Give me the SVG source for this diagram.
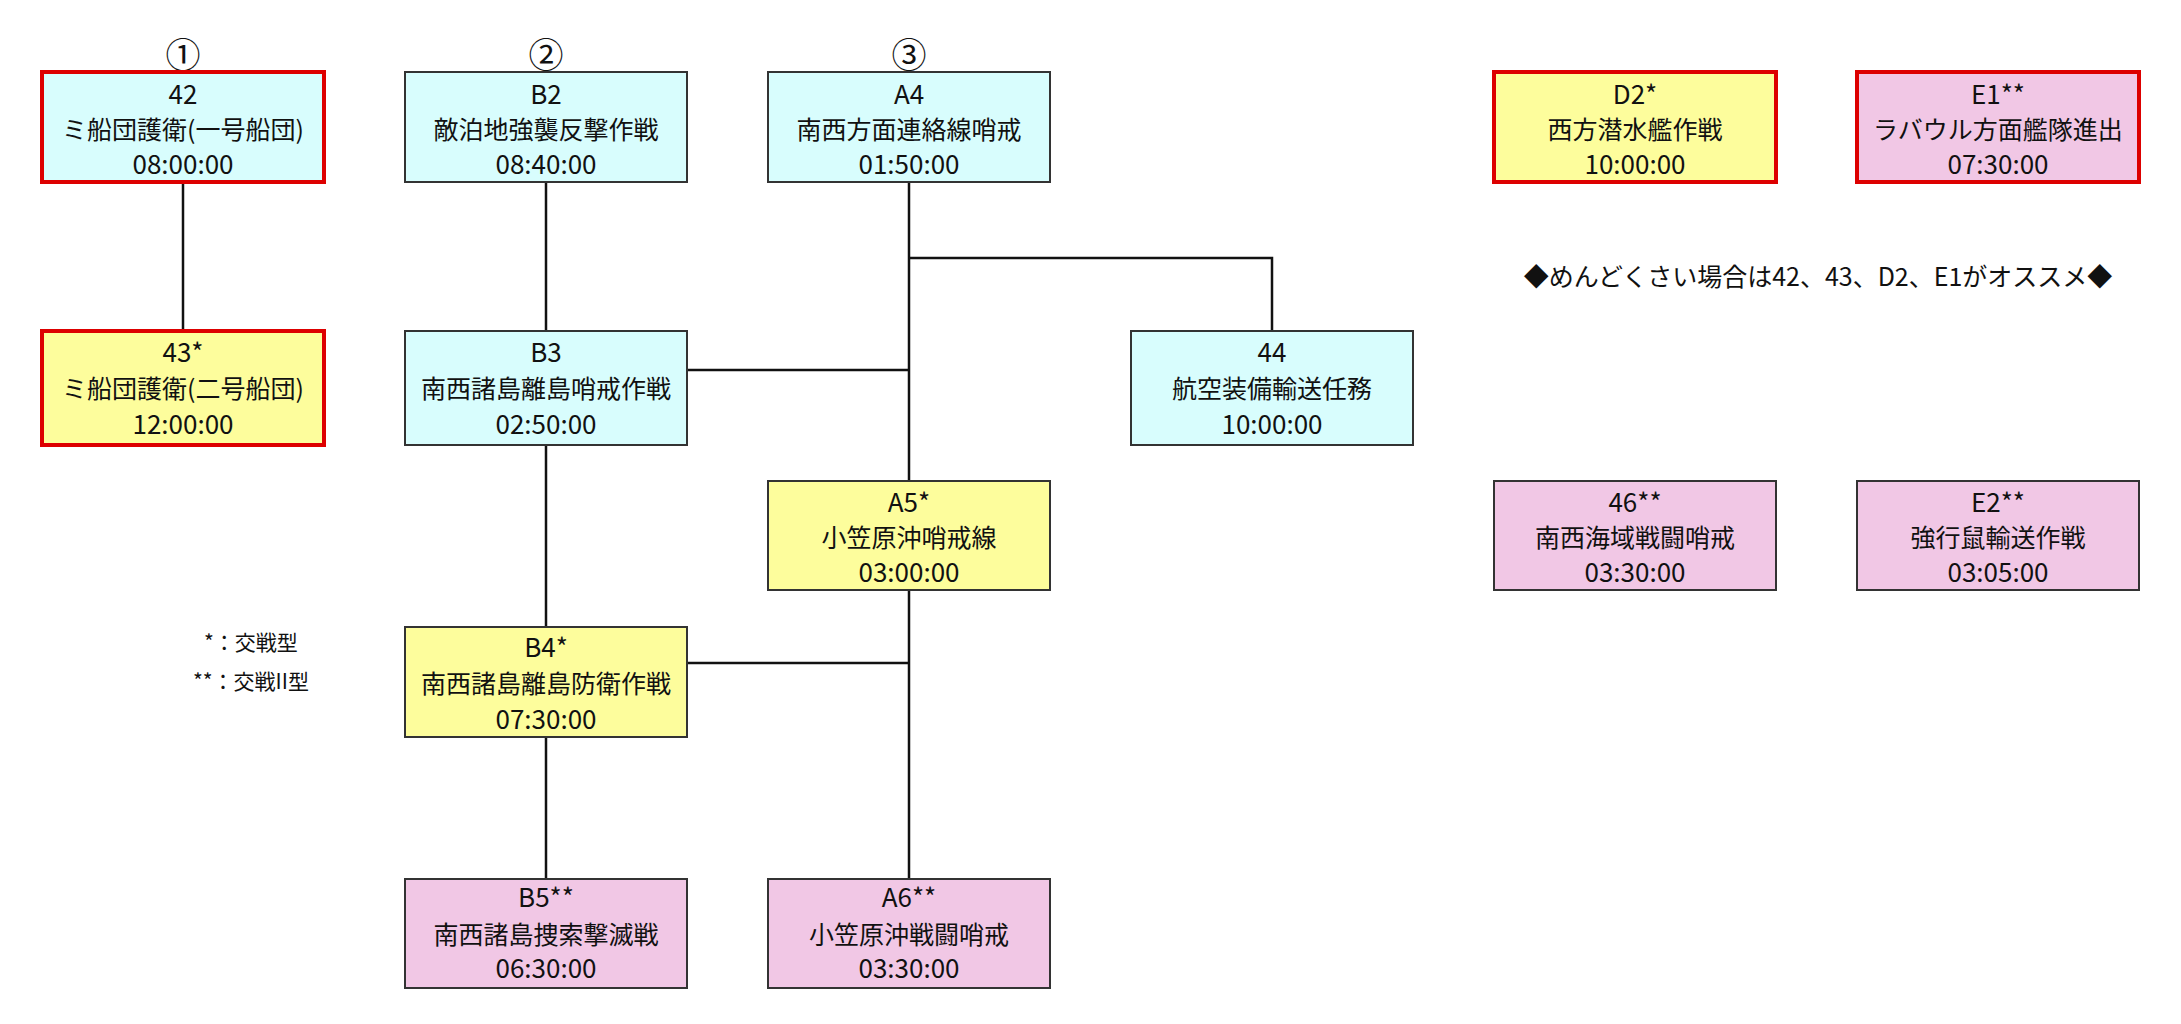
<svg xmlns="http://www.w3.org/2000/svg" width="2181" height="1024" viewBox="0 0 2181 1024">
<style>
text{font-family:"Noto Sans CJK JP","Noto Sans",sans-serif;fill:#111;text-anchor:middle}
.t{font-size:26px}
.j{font-size:25px}
.c{font-size:35px}
.n{stroke:#333;stroke-width:2}
.r{stroke:#dd0000;stroke-width:4}
.cy{fill:#d8fdfd}
.ye{fill:#fdfd9c}
.pk{fill:#f1c7e5}
.lg{font-size:21px;text-anchor:start}
#connectors path{fill:none;stroke:#111;stroke-width:2.5}
</style>
<rect width="2181" height="1024" fill="#fff"/>
<g id="connectors">
<path d="M183,182V331"/>
<path d="M546,182V331"/>
<path d="M546,445V627"/>
<path d="M546,737V879"/>
<path d="M909,182V481"/>
<path d="M909,258H1272V331"/>
<path d="M686,370H909"/>
<path d="M909,590V879"/>
<path d="M686,663H909"/>
</g>
<g id="labels">
<text class="c" x="183" y="68">①</text>
<text class="c" x="546" y="68">②</text>
<text class="c" x="909" y="68">③</text>
</g>
<g id="n42"><rect class="cy r" x="42" y="72" width="282" height="110"/>
<text class="t" x="183" y="104">42</text><text class="j" x="183" y="139">ミ船団護衛(一号船団)</text><text class="t" x="183" y="174">08:00:00</text></g>
<g id="nB2"><rect class="cy n" x="405" y="72" width="282" height="110"/>
<text class="t" x="546" y="104">B2</text><text class="j" x="546" y="139">敵泊地強襲反撃作戦</text><text class="t" x="546" y="174">08:40:00</text></g>
<g id="nA4"><rect class="cy n" x="768" y="72" width="282" height="110"/>
<text class="t" x="909" y="104">A4</text><text class="j" x="909" y="139">南西方面連絡線哨戒</text><text class="t" x="909" y="174">01:50:00</text></g>
<g id="nD2"><rect class="ye r" x="1494" y="72" width="282" height="110"/>
<text class="t" x="1635" y="104">D2*</text><text class="j" x="1635" y="139">西方潜水艦作戦</text><text class="t" x="1635" y="174">10:00:00</text></g>
<g id="nE1"><rect class="pk r" x="1857" y="72" width="282" height="110"/>
<text class="t" x="1998" y="104">E1**</text><text class="j" x="1998" y="139">ラバウル方面艦隊進出</text><text class="t" x="1998" y="174">07:30:00</text></g>
<g id="n43"><rect class="ye r" x="42" y="331" width="282" height="114"/>
<text class="t" x="183" y="362">43*</text><text class="j" x="183" y="398">ミ船団護衛(二号船団)</text><text class="t" x="183" y="434">12:00:00</text></g>
<g id="nB3"><rect class="cy n" x="405" y="331" width="282" height="114"/>
<text class="t" x="546" y="362">B3</text><text class="j" x="546" y="398">南西諸島離島哨戒作戦</text><text class="t" x="546" y="434">02:50:00</text></g>
<g id="n44"><rect class="cy n" x="1131" y="331" width="282" height="114"/>
<text class="t" x="1272" y="362">44</text><text class="j" x="1272" y="398">航空装備輸送任務</text><text class="t" x="1272" y="434">10:00:00</text></g>
<g id="nA5"><rect class="ye n" x="768" y="481" width="282" height="109"/>
<text class="t" x="909" y="512">A5*</text><text class="j" x="909" y="547">小笠原沖哨戒線</text><text class="t" x="909" y="582">03:00:00</text></g>
<g id="n46"><rect class="pk n" x="1494" y="481" width="282" height="109"/>
<text class="t" x="1635" y="512">46**</text><text class="j" x="1635" y="547">南西海域戦闘哨戒</text><text class="t" x="1635" y="582">03:30:00</text></g>
<g id="nE2"><rect class="pk n" x="1857" y="481" width="282" height="109"/>
<text class="t" x="1998" y="512">E2**</text><text class="j" x="1998" y="547">強行鼠輸送作戦</text><text class="t" x="1998" y="582">03:05:00</text></g>
<g id="nB4"><rect class="ye n" x="405" y="627" width="282" height="110"/>
<text class="t" x="546" y="657">B4*</text><text class="j" x="546" y="693">南西諸島離島防衛作戦</text><text class="t" x="546" y="729">07:30:00</text></g>
<g id="nB5"><rect class="pk n" x="405" y="879" width="282" height="109"/>
<text class="t" x="546" y="907">B5**</text><text class="j" x="546" y="944">南西諸島捜索撃滅戦</text><text class="t" x="546" y="978">06:30:00</text></g>
<g id="nA6"><rect class="pk n" x="768" y="879" width="282" height="109"/>
<text class="t" x="909" y="907">A6**</text><text class="j" x="909" y="944">小笠原沖戦闘哨戒</text><text class="t" x="909" y="978">03:30:00</text></g>
<g id="notes">
<text class="j" x="1818" y="286">◆めんどくさい場合は42、43、D2、E1がオススメ◆</text>
<text class="lg" x="204" y="650">*：交戦型</text>
<text class="lg" x="193" y="689">**：交戦II型</text>
</g>
</svg>
